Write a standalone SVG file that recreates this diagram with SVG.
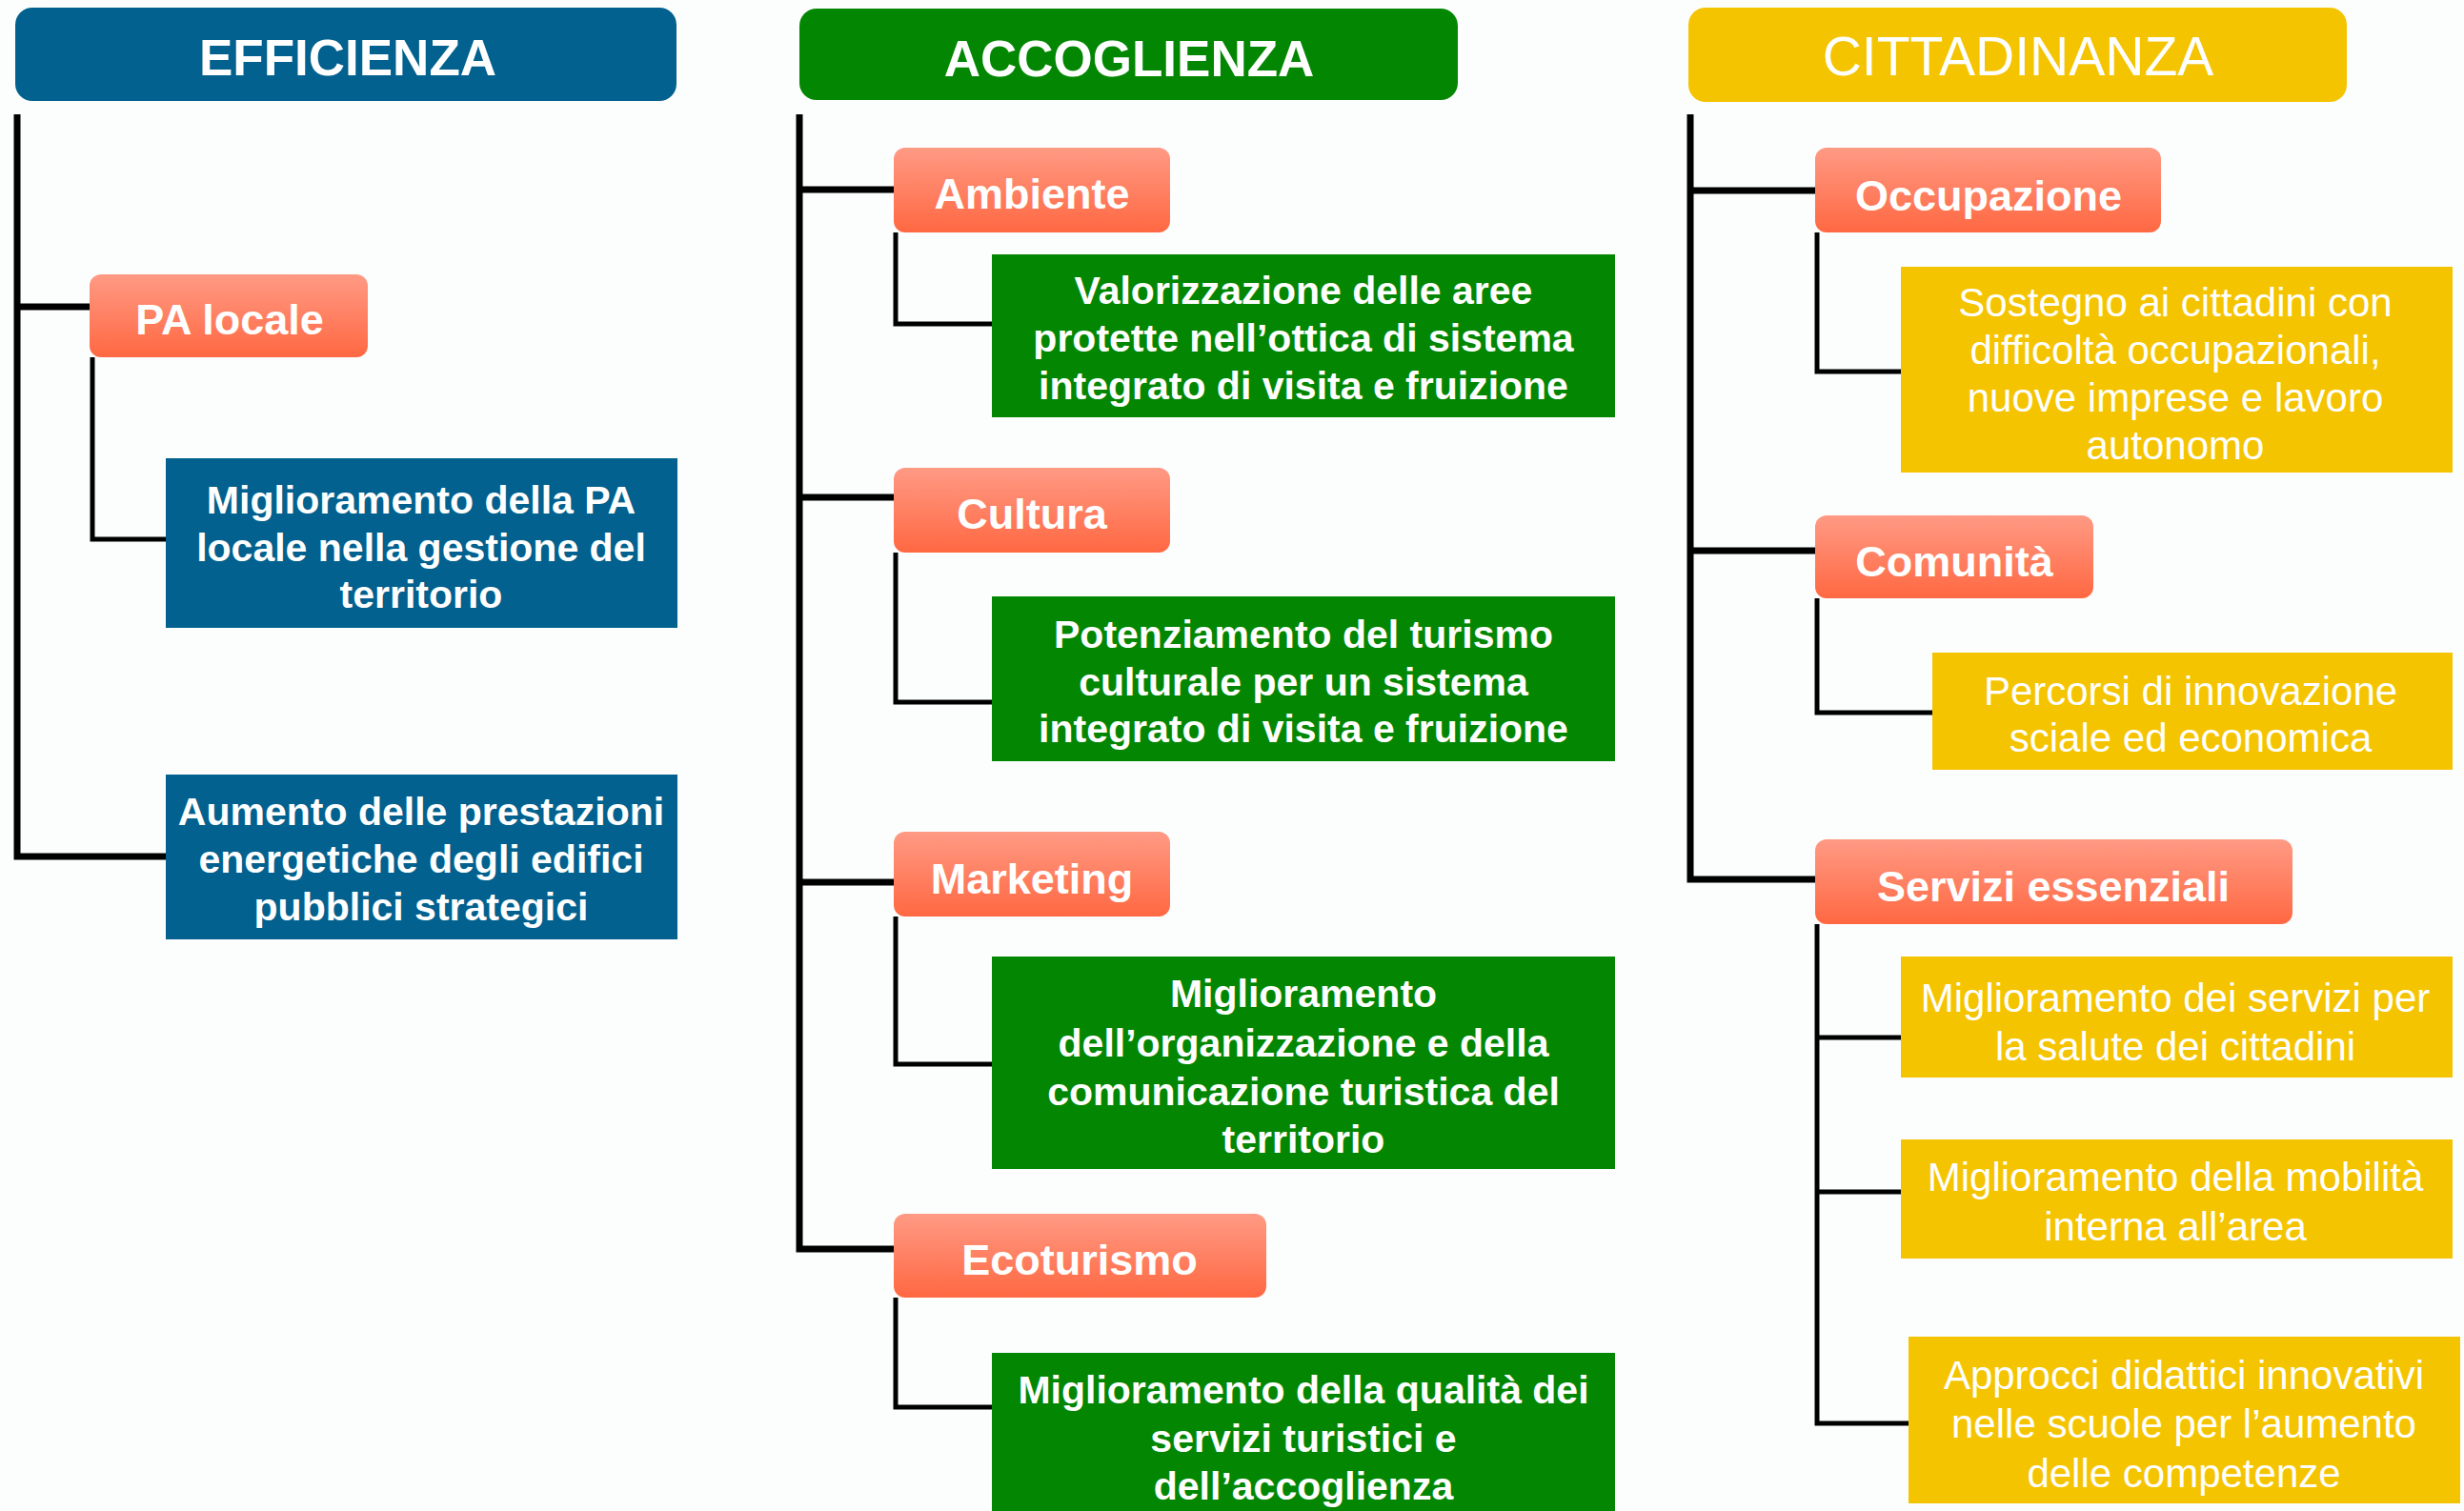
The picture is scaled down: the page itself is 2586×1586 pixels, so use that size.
<svg xmlns="http://www.w3.org/2000/svg" width="2586" height="1586" viewBox="0 0 2586 1586">
<defs>
<linearGradient id="og" x1="0" y1="0" x2="0" y2="1">
<stop offset="0" stop-color="#FF9A84"/>
<stop offset="1" stop-color="#FF6842"/>
</linearGradient>
<style>
text{font-family:"Liberation Sans",Arial,Helvetica,sans-serif;fill:#FFFFFF;text-anchor:middle}
.hdr{font-size:53px;font-weight:bold}
.hdrr{font-size:57px;font-weight:normal}
.lab{font-size:45px;font-weight:bold}
.bt{font-size:41px;font-weight:bold}
.yt{font-size:42px;font-weight:normal}
.blue{fill:#02618E}
.green{fill:#038703}
.yellow{fill:#F5C400}
.orange{fill:url(#og)}
.trunk{fill:none;stroke:#000;stroke-width:7;stroke-linejoin:miter}
.sub{fill:none;stroke:#000;stroke-width:5}
</style>
</defs>
<rect width="2586" height="1586" fill="#FCFEFE"/>

<g id="connectors">
<path class="trunk" d="M18,120 V899 H174"/>
<path class="trunk" d="M18,322 H94"/>
<path class="sub" d="M97,375 V566 H174"/>

<path class="trunk" d="M839,120 V1311 H938"/>
<path class="trunk" d="M839,199 H938"/>
<path class="trunk" d="M839,522 H938"/>
<path class="trunk" d="M839,926 H938"/>
<path class="sub" d="M940,244 V340 H1041"/>
<path class="sub" d="M940,580 V737 H1041"/>
<path class="sub" d="M940,962 V1117 H1041"/>
<path class="sub" d="M940,1362 V1477 H1041"/>

<path class="trunk" d="M1774,120 V923 H1905"/>
<path class="trunk" d="M1774,200 H1905"/>
<path class="trunk" d="M1774,578 H1905"/>
<path class="sub" d="M1907,244 V390 H1995"/>
<path class="sub" d="M1907,628 V748 H2028"/>
<path class="sub" d="M1907,970 V1494 H2003"/>
<path class="sub" d="M1907,1089 H1995"/>
<path class="sub" d="M1907,1251 H1995"/>
</g>

<g id="efficienza">
<rect class="blue" x="16" y="8" width="694" height="98" rx="18"/>
<text class="hdr" x="365" y="79">EFFICIENZA</text>
</g>
<g id="pa-locale">
<rect class="orange" x="94" y="288" width="292" height="87" rx="12"/>
<text class="lab" x="241" y="351">PA locale</text>
</g>
<g id="miglioramento-pa">
<rect class="blue" x="174" y="481" width="537" height="178"/>
<text class="bt" x="442" y="539">Miglioramento della PA<tspan x="442" y="589">locale nella gestione del</tspan><tspan x="442" y="638">territorio</tspan></text>
</g>
<g id="aumento-prestazioni">
<rect class="blue" x="174" y="813" width="537" height="173"/>
<text class="bt" x="442" y="866">Aumento delle prestazioni<tspan x="442" y="916">energetiche degli edifici</tspan><tspan x="442" y="966">pubblici strategici</tspan></text>
</g>

<g id="accoglienza">
<rect class="green" x="839" y="9" width="691" height="96" rx="18"/>
<text class="hdr" x="1185" y="80">ACCOGLIENZA</text>
</g>
<g id="ambiente">
<rect class="orange" x="938" y="155" width="290" height="89" rx="12"/>
<text class="lab" x="1083" y="219">Ambiente</text>
</g>
<g id="valorizzazione">
<rect class="green" x="1041" y="267" width="654" height="171"/>
<text class="bt" x="1368" y="319">Valorizzazione delle aree<tspan x="1368" y="369">protette nell’ottica di sistema</tspan><tspan x="1368" y="419">integrato di visita e fruizione</tspan></text>
</g>
<g id="cultura">
<rect class="orange" x="938" y="491" width="290" height="89" rx="12"/>
<text class="lab" x="1083" y="555">Cultura</text>
</g>
<g id="potenziamento">
<rect class="green" x="1041" y="626" width="654" height="173"/>
<text class="bt" x="1368" y="680">Potenziamento del turismo<tspan x="1368" y="730">culturale per un sistema</tspan><tspan x="1368" y="779">integrato di visita e fruizione</tspan></text>
</g>
<g id="marketing">
<rect class="orange" x="938" y="873" width="290" height="89" rx="12"/>
<text class="lab" x="1083" y="938">Marketing</text>
</g>
<g id="miglioramento-organizzazione">
<rect class="green" x="1041" y="1004" width="654" height="223"/>
<text class="bt" x="1368" y="1057">Miglioramento<tspan x="1368" y="1109">dell’organizzazione e della</tspan><tspan x="1368" y="1160">comunicazione turistica del</tspan><tspan x="1368" y="1210">territorio</tspan></text>
</g>
<g id="ecoturismo">
<rect class="orange" x="938" y="1274" width="391" height="88" rx="12"/>
<text class="lab" x="1133" y="1338">Ecoturismo</text>
</g>
<g id="miglioramento-qualita">
<rect class="green" x="1041" y="1420" width="654" height="190"/>
<text class="bt" x="1368" y="1473">Miglioramento della qualità dei<tspan x="1368" y="1524">servizi turistici e</tspan><tspan x="1368" y="1574">dell’accoglienza</tspan></text>
</g>

<g id="cittadinanza">
<rect class="yellow" x="1772" y="8" width="691" height="99" rx="18"/>
<text class="hdrr" x="2118" y="79">CITTADINANZA</text>
</g>
<g id="occupazione">
<rect class="orange" x="1905" y="155" width="363" height="89" rx="12"/>
<text class="lab" x="2087" y="221">Occupazione</text>
</g>
<g id="sostegno">
<rect class="yellow" x="1995" y="280" width="579" height="216"/>
<text class="yt" x="2283" y="332">Sostegno ai cittadini con<tspan x="2283" y="382">difficoltà occupazionali,</tspan><tspan x="2283" y="432">nuove imprese e lavoro</tspan><tspan x="2283" y="482">autonomo</tspan></text>
</g>
<g id="comunita">
<rect class="orange" x="1905" y="541" width="292" height="87" rx="12"/>
<text class="lab" x="2051" y="605">Comunità</text>
</g>
<g id="percorsi">
<rect class="yellow" x="2028" y="685" width="546" height="123"/>
<text class="yt" x="2299" y="740">Percorsi di innovazione<tspan x="2299" y="789">sciale ed economica</tspan></text>
</g>
<g id="servizi-essenziali">
<rect class="orange" x="1905" y="881" width="501" height="89" rx="12"/>
<text class="lab" x="2155" y="946">Servizi essenziali</text>
</g>
<g id="salute">
<rect class="yellow" x="1995" y="1004" width="579" height="127"/>
<text class="yt" x="2283" y="1062">Miglioramento dei servizi per<tspan x="2283" y="1113">la salute dei cittadini</tspan></text>
</g>
<g id="mobilita">
<rect class="yellow" x="1995" y="1196" width="579" height="125"/>
<text class="yt" x="2283" y="1250">Miglioramento della mobilità<tspan x="2283" y="1302">interna all’area</tspan></text>
</g>
<g id="didattici">
<rect class="yellow" x="2003" y="1403" width="579" height="175"/>
<text class="yt" x="2292" y="1458">Approcci didattici innovativi<tspan x="2292" y="1509">nelle scuole per l’aumento</tspan><tspan x="2292" y="1561">delle competenze</tspan></text>
</g>
</svg>
